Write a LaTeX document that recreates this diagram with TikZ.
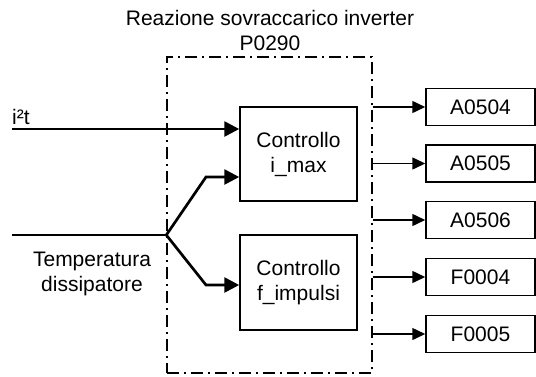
\documentclass[tikz,border=0pt]{standalone}
\usepackage{fontspec}
\setmainfont{Liberation Sans}
\usetikzlibrary{arrows.meta,positioning}

\begin{document}
\begin{tikzpicture}[
        x=1pt, y=-1pt,
        every node/.style={font=\fontsize{21}{25}\selectfont},
        frame/.style={rectangle, line width=1.4pt, draw, dash pattern=on 12pt off 5pt on 2pt off 5pt, minimum width=205pt, minimum height=316pt, inner sep=0pt},
        block/.style={rectangle, draw, line width=1.5pt, minimum width=117pt, minimum height=94pt, align=center, inner sep=0pt},
        flag/.style={rectangle, draw, line width=1.5pt, minimum width=109pt, minimum height=37pt, inner sep=0pt},
        signal/.style={line width=2.7pt, line join=miter, -{Triangle[length=15pt,width=15pt]}},
        event/.style={line width=1.5pt, -{Triangle[length=13pt,width=12pt]}}
    ]
    \useasboundingbox (0,0) rectangle (536,376);
    \node[frame] (ovl) at (269.5,215) {};
    \node[align=center, inner sep=0pt] (title) at (270,30.6) {Reazione sovraccarico inverter\\P0290};
    \node[block] (imax) at (298.5,154) {Controllo\\i\_max};
    \node[block, minimum height=95pt] (fimp) at (298.5,282.5) {Controllo\\f\_impulsi};
    \node[anchor=base west, inner sep=0pt] (lbl) at (12,124) {i²t};
    \node[align=center, inner sep=0pt] (temp) at (92,274) {Temperatura\\dissipatore};
    \coordinate (in1) at (12,129);
    \coordinate (in2) at (12,235);
    \coordinate (split) at (ovl.west |- in2);
    \coordinate (up) at (206,177);
    \coordinate (dn) at (206,285);
    \draw[signal] (in1) -- (in1 -| imax.west);
    \draw[line width=2.7pt] (in2) -- (split);
    \draw[signal] (split) -- (up) -- (up -| imax.west);
    \draw[signal] (split) -- (dn) -- (dn -| fimp.west);
    \foreach \lbl/\ypos [count=\i] in {A0504/107, A0505/163.5, A0506/220, F0004/277, F0005/334} {
        \node[flag] (out\i) at (480.5,\ypos) {\lbl};
        \draw[event] (ovl.east |- out\i.west) -- (out\i.west);
    }
\end{tikzpicture}
\end{document}
